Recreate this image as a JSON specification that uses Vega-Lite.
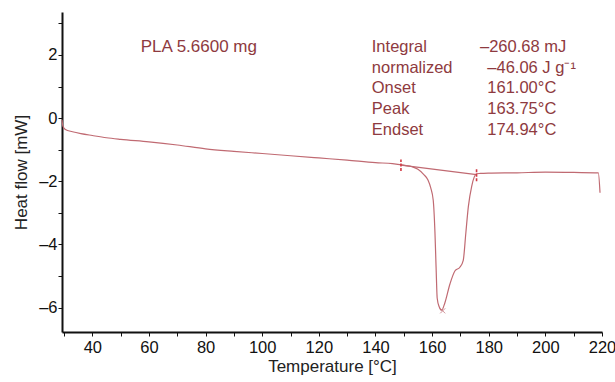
{
  "$schema": "https://vega.github.io/schema/vega-lite/v6.json",
  "width": 540,
  "height": 320,
  "autosize": {"type": "none"},
  "padding": {"left": 62, "top": 12, "right": 13, "bottom": 50},
  "background": "white",
  "config": {
    "view": {"stroke": null},
    "font": "Liberation Sans",
    "axis": {"grid": false, "domainColor": "#111", "domainWidth": 2, "tickColor": "#111", "labelColor": "#111", "titleColor": "#222", "labelFontSize": 16.5, "titleFontSize": 17, "titleFontWeight": "normal", "labelFont": "Liberation Sans", "titleFont": "Liberation Sans", "labelOverlap": false, "labelFlush": false}
  },
  "datasets": {
    "curve": [
      {"T": 29.3, "HF": -0.05}, {"T": 29.6, "HF": -0.25}, {"T": 30.5, "HF": -0.36}, {"T": 33, "HF": -0.43},
      {"T": 36, "HF": -0.49}, {"T": 40, "HF": -0.55}, {"T": 45, "HF": -0.62}, {"T": 50, "HF": -0.67},
      {"T": 60, "HF": -0.75}, {"T": 70, "HF": -0.85}, {"T": 80, "HF": -0.97}, {"T": 90, "HF": -1.05},
      {"T": 100, "HF": -1.12}, {"T": 110, "HF": -1.19}, {"T": 120, "HF": -1.26}, {"T": 130, "HF": -1.33},
      {"T": 140, "HF": -1.41}, {"T": 146, "HF": -1.44}, {"T": 150, "HF": -1.49}, {"T": 153, "HF": -1.54},
      {"T": 155, "HF": -1.62}, {"T": 157, "HF": -1.78}, {"T": 158.5, "HF": -1.95}, {"T": 159.5, "HF": -2.2},
      {"T": 160.4, "HF": -2.6}, {"T": 161, "HF": -3.6}, {"T": 161.4, "HF": -4.7}, {"T": 161.8, "HF": -5.7},
      {"T": 162.5, "HF": -5.97}, {"T": 163.4, "HF": -6.08}, {"T": 164.5, "HF": -5.85}, {"T": 166.3, "HF": -5.25},
      {"T": 168.1, "HF": -4.83}, {"T": 169.8, "HF": -4.72}, {"T": 171, "HF": -4.5}, {"T": 171.9, "HF": -3.65},
      {"T": 172.8, "HF": -2.8}, {"T": 174, "HF": -2.15}, {"T": 174.9, "HF": -1.86}, {"T": 175.7, "HF": -1.76},
      {"T": 177, "HF": -1.75}, {"T": 180, "HF": -1.74}, {"T": 190, "HF": -1.73}, {"T": 200, "HF": -1.71},
      {"T": 210, "HF": -1.72}, {"T": 218.7, "HF": -1.73}, {"T": 219.3, "HF": -2.36}
    ],
    "baseline": [{"T": 149.0, "HF": -1.49}, {"T": 175.7, "HF": -1.79}],
    "markers": [{"T": 149.0, "lo": -1.67, "hi": -1.31}, {"T": 175.7, "lo": -2.0, "hi": -1.61}],
    "peak": [{"T": 163.75, "HF": -6.1}]
  },
  "layer": [
    {
      "data": {"name": "curve"},
      "mark": {"type": "line", "color": "#c06a72", "strokeWidth": 1.2, "interpolate": "monotone"},
      "encoding": {
        "x": {"field": "T", "type": "quantitative", "scale": {"domain": [29.3, 220], "nice": false, "zero": false},
          "axis": {"title": "Temperature [°C]", "values": [30, 40, 50, 60, 70, 80, 90, 100, 110, 120, 130, 140, 150, 160, 170, 180, 190, 200, 210, 220], "tickCount": 40, "format": "d",
            "labelExpr": "datum.value % 20 == 0 ? datum.label : ''", "tickSize": 4, "labelPadding": 3, "titlePadding": 3, "labelFlush": false, "labelOverlap": false, "labelBound": false}},
        "y": {"field": "HF", "type": "quantitative", "scale": {"domain": [-6.77, 3.36], "nice": false, "zero": false},
          "axis": {"title": "Heat flow [mW]", "values": [-6, -5, -4, -3, -2, -1, 0, 1, 2, 3], "tickCount": 40, "format": "d",
            "labelExpr": "datum.value % 2 == 0 ? replace(datum.label, '−', '–') : ''", "tickSize": 4, "labelPadding": 1, "titlePadding": 8, "labelFlush": false, "labelOverlap": false}}
      }
    },
    {
      "data": {"name": "baseline"},
      "mark": {"type": "line", "color": "#c06a72", "strokeWidth": 1.2},
      "encoding": {"x": {"field": "T", "type": "quantitative"}, "y": {"field": "HF", "type": "quantitative"}}
    },
    {
      "data": {"name": "markers"},
      "mark": {"type": "rule", "color": "#d23a44", "strokeWidth": 1.6, "strokeDash": [3, 1.5]},
      "encoding": {"x": {"field": "T", "type": "quantitative"}, "y": {"field": "lo", "type": "quantitative"}, "y2": {"field": "hi"}}
    },
    {
      "data": {"name": "peak"},
      "mark": {"type": "point", "shape": "M-1,-1L1,1M-1,1L1,-1", "color": "#c06a72", "strokeWidth": 1, "size": 25, "filled": false},
      "encoding": {"x": {"field": "T", "type": "quantitative"}, "y": {"field": "HF", "type": "quantitative"}}
    },
    {
      "data": {"values": [{"label": "PLA 5.6600 mg"}]},
      "mark": {"type": "text", "align": "left", "baseline": "alphabetic", "fontSize": 17, "color": "#8e3a40"},
      "encoding": {"x": {"datum": 57.1}, "y": {"datum": 2.08}, "text": {"field": "label"}}
    },
    {
      "data": {"values": [{"label": ["Integral", "normalized", "Onset", "Peak", "Endset"]}]},
      "mark": {"type": "text", "align": "left", "baseline": "alphabetic", "fontSize": 16.5, "lineHeight": 20.8, "color": "#8e3a40"},
      "encoding": {"x": {"datum": 138.7}, "y": {"datum": 2.1}, "text": {"field": "label"}}
    },
    {
      "data": {"values": [{"label": "–260.68 mJ"}]},
      "mark": {"type": "text", "align": "left", "baseline": "alphabetic", "fontSize": 16.5, "color": "#8e3a40"},
      "encoding": {"x": {"datum": 176.9}, "y": {"datum": 2.1}, "text": {"field": "label"}}
    },
    {
      "data": {"values": [{"label": ["–46.06 J g⁻¹", "161.00°C", "163.75°C", "174.94°C"]}]},
      "mark": {"type": "text", "align": "left", "baseline": "alphabetic", "fontSize": 16.5, "lineHeight": 20.8, "color": "#8e3a40"},
      "encoding": {"x": {"datum": 179.5}, "y": {"datum": 1.44}, "text": {"field": "label"}}
    }
  ]
}
